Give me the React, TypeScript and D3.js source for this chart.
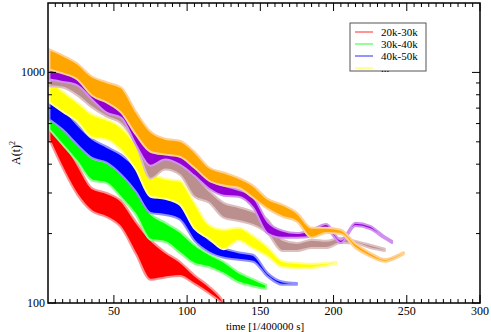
import React from 'react';
import * as d3 from 'd3';

// each row: [time, low, high] of the noisy trace
const red20k30k = [
  [6, 510, 645], [15, 385, 510], [25, 295, 400], [35, 250, 315], [45, 236, 300], [55, 212, 277],
  [65, 163, 225], [75, 126, 188], [85, 129, 166], [95, 131, 151], [105, 121, 132], [115, 110, 118],
  [122, 102, 107], [125, 99, 101],
];
const green30k40k = [
  [6, 565, 763], [15, 486, 625], [25, 410, 500], [35, 340, 425], [45, 331, 406], [55, 286, 363],
  [65, 241, 310], [75, 188, 244], [85, 184, 223], [95, 165, 204], [105, 148, 179], [115, 143, 163],
  [125, 134, 151], [135, 123, 136], [145, 118, 127], [154, 115, 120],
];
const blue40k50k = [
  [6, 625, 818], [15, 565, 704], [25, 486, 594], [35, 426, 516], [45, 406, 476], [55, 360, 440],
  [65, 304, 387], [75, 246, 316], [85, 241, 289], [95, 230, 270], [105, 186, 218], [115, 166, 188],
  [125, 157, 173], [135, 154, 166], [145, 151, 162], [155, 130, 135], [165, 120, 124], [175, 120, 122],
];
const yellow50k60k = [
  [6, 741, 932], [15, 676, 826], [25, 612, 741], [35, 522, 657], [45, 511, 625], [55, 459, 576],
  [65, 379, 486], [75, 289, 371], [85, 283, 346], [95, 267, 339], [105, 210, 272], [115, 190, 218],
  [125, 171, 208], [135, 186, 212], [145, 172, 196], [155, 159, 175], [165, 143, 152], [175, 142, 149],
  [185, 142, 148], [195, 145, 149], [202, 148, 151],
];
const brown60k70k = [
  [6, 871, 1105], [15, 860, 1070], [25, 795, 970], [35, 705, 860], [45, 643, 786], [55, 600, 733],
  [65, 486, 625], [75, 346, 453], [85, 379, 449], [95, 360, 440], [105, 289, 360], [115, 272, 307],
  [125, 234, 272], [135, 227, 261], [145, 218, 249], [155, 200, 230], [165, 168, 188], [175, 168, 182],
  [185, 173, 188], [195, 173, 186], [205, 182, 192], [215, 181, 186], [225, 173, 179], [235, 168, 172],
];
const purple70k80k = [
  [6, 932, 1139], [15, 910, 1105], [25, 878, 1030], [35, 763, 910], [45, 669, 818], [55, 636, 755],
  [65, 486, 643], [75, 394, 500], [85, 419, 505], [95, 398, 500], [105, 356, 410], [115, 313, 343],
  [125, 292, 323], [135, 289, 310], [145, 259, 289], [155, 200, 225], [165, 192, 206], [175, 192, 201],
  [185, 194, 208], [195, 208, 220], [205, 182, 188], [215, 216, 223], [225, 209, 216], [235, 190, 194],
  [240, 182, 186],
];
const orange80k90k = [
  [6, 1030, 1259], [15, 990, 1186], [25, 932, 1093], [35, 794, 960], [45, 741, 906], [55, 669, 860],
  [65, 538, 676], [75, 453, 554], [85, 440, 516], [95, 431, 505], [105, 386, 453], [115, 339, 387],
  [125, 323, 368], [135, 316, 349], [145, 286, 323], [155, 256, 283], [165, 237, 267], [175, 225, 246],
  [185, 192, 212], [195, 201, 212], [205, 199, 208], [215, 173, 181], [225, 159, 165], [235, 151, 155],
  [245, 159, 163], [248, 163, 166],
];

const legendLabels = ['20k-30k', '30k-40k', '40k-50k', '...'];
const legendColors = ['#ff7070', '#70ff70', '#7070ff', '#ffff70'];
const xTicks = [50, 100, 150, 200, 250, 300];
const yTicks = [100, 1000];

const series = [
  { data: red20k30k, color: '#ff0000', light: '#ff9090' },
  { data: green30k40k, color: '#00ff00', light: '#90ff90' },
  { data: blue40k50k, color: '#0000ff', light: '#9090ff' },
  { data: yellow50k60k, color: '#ffff00', light: '#ffff90' },
  { data: brown60k70k, color: '#bc8f8f', light: '#dcc0c0' },
  { data: purple70k80k, color: '#9400d3', light: '#d090f0' },
  { data: orange80k90k, color: '#ffa500', light: '#ffd090' },
];

const W = 491;
const H = 332;
const m = { left: 48, right: 480, top: 3, bottom: 303 };

export default function App() {
  const x = d3.scaleLinear().domain([5, 300]).range([m.left, m.right]);
  const y = d3.scaleLog().domain([100, 2000]).range([m.bottom, m.top]);

  const area = d3
    .area<number[]>()
    .x((d) => x(d[0]))
    .y0((d) => y(d[1]))
    .y1((d) => y(d[2]))
    .curve(d3.curveMonotoneX);

  const xMinor = d3.range(10, 300, 5).filter((t) => t % 50 !== 0);
  const yMinor = [200, 300, 400, 500, 600, 700, 800, 900];
  const font = "'Liberation Serif', 'Times New Roman', serif";

  return (
    <div style={{ position: 'fixed', left: 0, top: 0 }}>
      <svg width={W} height={H} style={{ display: 'block', background: '#fff' }}>
        <defs>
          <clipPath id="plot">
            <rect x={m.left} y={m.top} width={m.right - m.left} height={m.bottom - m.top} />
          </clipPath>
        </defs>
        <g clipPath="url(#plot)">
          {series.map((s, i) => (
            <path
              key={i}
              d={area(s.data) || ''}
              fill={s.color}
              stroke={s.light}
              strokeWidth={2}
              strokeLinejoin="round"
            />
          ))}
        </g>

        {/* frame */}
        <rect
          x={m.left}
          y={m.top}
          width={m.right - m.left}
          height={m.bottom - m.top}
          fill="none"
          stroke="#000"
          strokeWidth={1.5}
        />

        {/* x ticks, bottom and top, inward */}
        {xTicks.map((t) => (
          <g key={'xt' + t}>
            <line x1={x(t)} x2={x(t)} y1={m.bottom} y2={m.bottom - 8} stroke="#000" />
            <line x1={x(t)} x2={x(t)} y1={m.top} y2={m.top + 8} stroke="#000" />
            <text x={x(t)} y={315} textAnchor="middle" fontSize={12} fontFamily={font}>
              {t}
            </text>
          </g>
        ))}
        {xMinor.map((t) => (
          <g key={'xm' + t}>
            <line x1={x(t)} x2={x(t)} y1={m.bottom} y2={m.bottom - 4} stroke="#000" />
            <line x1={x(t)} x2={x(t)} y1={m.top} y2={m.top + 4} stroke="#000" />
          </g>
        ))}

        {/* y ticks, left and right */}
        {yTicks.map((v) => (
          <g key={'yt' + v}>
            <line x1={m.left} x2={m.left + 8} y1={y(v)} y2={y(v)} stroke="#000" />
            <line x1={m.right} x2={m.right - 8} y1={y(v)} y2={y(v)} stroke="#000" />
            <text x={m.left - 3} y={y(v) + 4} textAnchor="end" fontSize={12} fontFamily={font}>
              {v}
            </text>
          </g>
        ))}
        {yMinor.map((v) => (
          <g key={'ym' + v}>
            <line x1={m.left} x2={m.left + 4} y1={y(v)} y2={y(v)} stroke="#000" />
            <line x1={m.right} x2={m.right - 4} y1={y(v)} y2={y(v)} stroke="#000" />
          </g>
        ))}

        {/* axis titles */}
        <text x={265} y={330} textAnchor="middle" fontSize={11} fontFamily={font}>
          time [1/400000 s]
        </text>
        <text
          transform={`translate(20, ${153}) rotate(-90)`}
          textAnchor="middle"
          fontSize={12}
          fontFamily={font}
        >
          A(t)
          <tspan fontSize={8} dy={-5}>
            2
          </tspan>
        </text>

        {/* legend */}
        <rect x={350} y={23} width={76} height={48} fill="#fff" stroke="#555" strokeWidth={1} />
        {legendLabels.map((lab, i) => (
          <g key={lab}>
            <line
              x1={355}
              x2={373}
              y1={32 + i * 12}
              y2={32 + i * 12}
              stroke={legendColors[i]}
              strokeWidth={1.5}
            />
            <text x={381} y={36 + i * 12} fontSize={11} fontFamily={font}>
              {lab}
            </text>
          </g>
        ))}
      </svg>
    </div>
  );
}
